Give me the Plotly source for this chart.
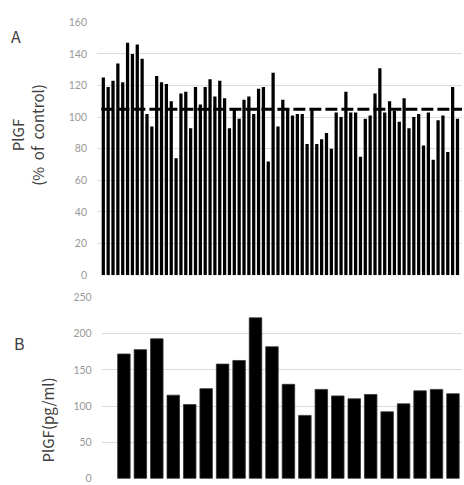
import plotly.graph_objects as go

# Panel A: PlGF (% of control), one bar per sample
a_values = [125, 119, 123, 134, 122, 147, 140, 146, 137, 102,
            94, 126, 122, 121, 110, 74, 115, 116, 93, 119,
            108, 119, 124, 113, 123, 112, 93, 105, 99, 111,
            113, 102, 118, 119, 72, 128, 94, 111, 105, 101,
            102, 102, 83, 105, 83, 86, 90, 80, 103, 100,
            116, 103, 103, 75, 99, 101, 115, 131, 103, 110,
            104, 97, 112, 93, 100, 102, 82, 103, 73, 98,
            101, 78, 119, 99]
a_samples = list(range(len(a_values)))
a_mean = 105
a_ticks = [0, 20, 40, 60, 80, 100, 120, 140, 160]

# Panel B: PlGF (pg/ml)
b_values = [172, 178, 193, 115, 102, 124, 158, 163, 222, 182,
            130, 87, 123, 114, 110, 116, 92, 103, 121, 123, 117]
b_samples = list(range(len(b_values)))
b_ticks = [0, 50, 100, 150, 200, 250]

W, H = 464, 485
fig = go.Figure()
fig.add_trace(go.Bar(x=a_samples, y=a_values, xaxis="x", yaxis="y",
                     marker=dict(color="black", line=dict(width=0)),
                     showlegend=False))
fig.add_trace(go.Bar(x=b_samples, y=b_values, xaxis="x2", yaxis="y2",
                     marker=dict(color="black", line=dict(color="#333333", width=0.8)),
                     showlegend=False))

fig.add_shape(type="line", xref="x domain", yref="y", x0=0.012, x1=1.0,
              y0=a_mean, y1=a_mean,
              line=dict(color="black", width=3, dash="12px,4px"))

tickfont = dict(family="Lato, Liberation Sans, sans-serif", size=10.5, color="#999999")
grid = "#dcdcdc"
fig.update_layout(
    width=W, height=H, margin=dict(l=0, r=0, t=0, b=0),
    plot_bgcolor="white", paper_bgcolor="white",
    bargap=0.33,
    xaxis=dict(domain=[97 / W, 462 / W], range=[-1.3, len(a_values) - 1 + 0.93],
               showticklabels=False, showgrid=False, zeroline=False, showline=False,
               ticks=""),
    yaxis=dict(domain=[1 - 276 / H, 1 - 16.7 / H], range=[0, 160], tickvals=a_ticks,
               showgrid=True, gridcolor=grid, gridwidth=1, zeroline=False, showline=False,
               tickfont=tickfont, ticklabelstandoff=9),
    xaxis2=dict(domain=[101.7 / W, 462 / W], range=[-1.35, len(b_values) - 1 + 0.55],
                anchor="y2", showticklabels=False, showgrid=False, zeroline=False,
                showline=False, ticks=""),
    yaxis2=dict(domain=[0, 1 - 299 / H], range=[-1, 250], tickvals=b_ticks, anchor="x2",
                showgrid=True, gridcolor=grid, gridwidth=1, zeroline=False, showline=False,
                tickfont=tickfont, ticklabelstandoff=9),
)
fig.update_traces(selector=dict(xaxis="x2"), width=0.76)

titlefont = dict(family="Noto Sans CJK JP, sans-serif", size=15, color="#404040")
common = dict(xref="paper", yref="paper", showarrow=False, xanchor="center", yanchor="middle")
fig.add_annotation(text="A", x=16 / W, y=1 - 31 / H,
                   font=dict(family="Noto Sans CJK JP, sans-serif", size=16, color="#404040"), **common)
fig.add_annotation(text="B", x=19 / W, y=1 - 346 / H,
                   font=dict(family="Noto Sans CJK JP, sans-serif", size=16, color="#404040"), **common)
fig.add_annotation(text="PlGF<br>(%  of  control)", x=28 / W, y=1 - 132 / H,
                   textangle=-90, font=titlefont, **common)
fig.add_annotation(text="PlGF(pg/ml)", x=47 / W, y=1 - 425 / H,
                   textangle=-90, font=titlefont, **common)

fig.write_html("out.html", config={"displayModeBar": False},
               post_script="document.body.style.margin='0px';"
                           "document.body.style.padding='0px';"
                           "document.body.style.overflow='hidden';")
